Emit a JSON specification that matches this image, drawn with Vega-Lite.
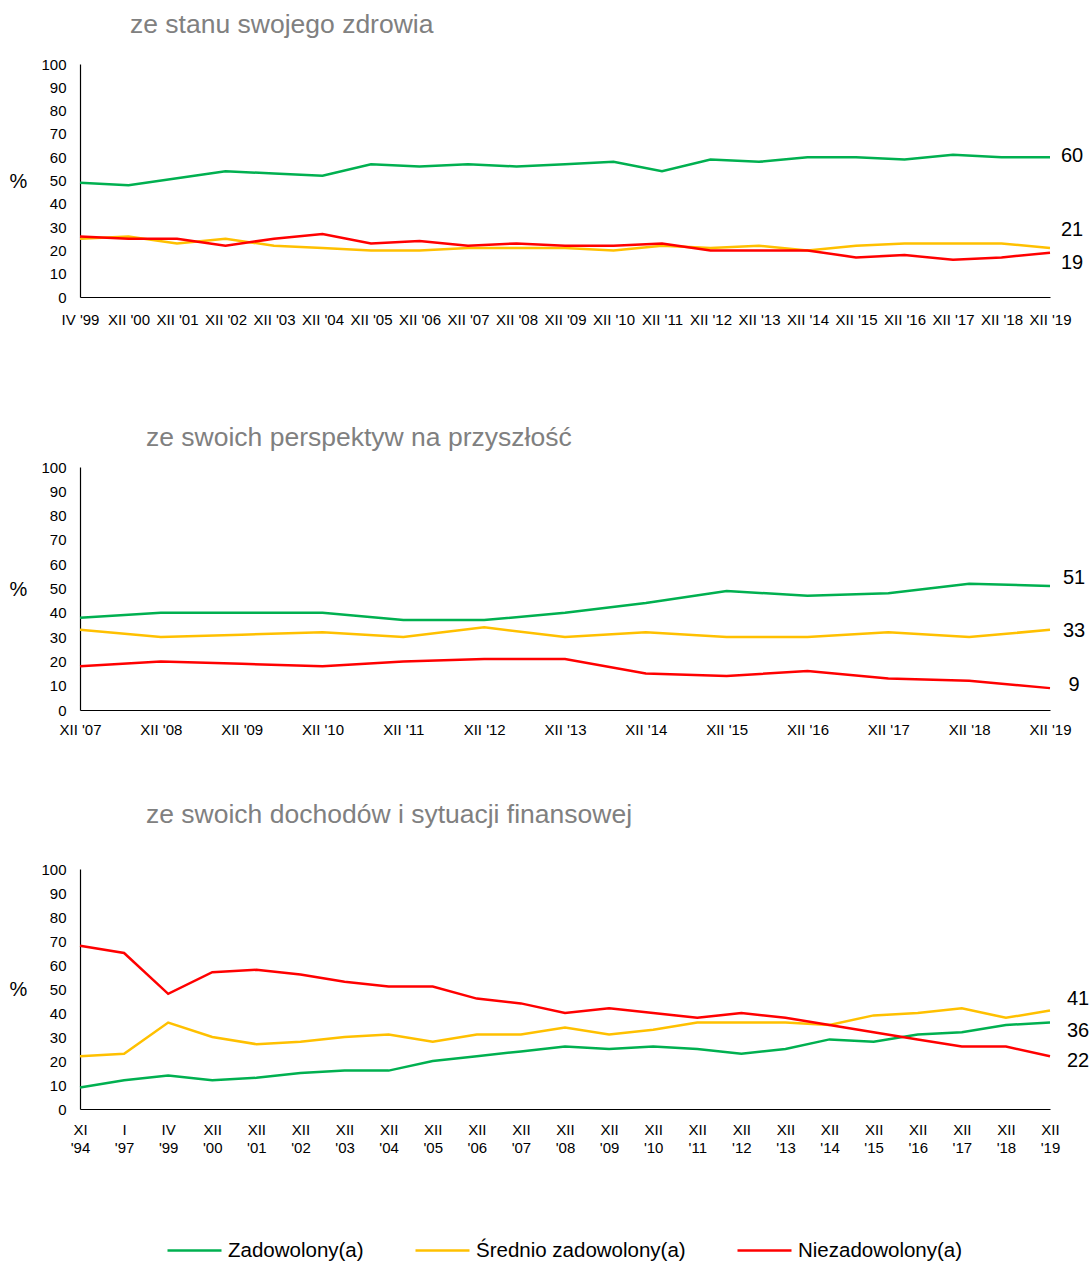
{
  "$schema": "https://vega.github.io/schema/vega-lite/v6.json",
  "padding": {"left": 9, "top": 11, "right": 0, "bottom": 0},
  "spacing": 63,
  "config": {
    "font": "Liberation Sans",
    "view": {"stroke": null},
    "axis": {"grid": false, "ticks": false, "tickSize": 0, "domainColor": "#000000", "domainWidth": 1.2, "labelColor": "#000000", "labelFontSize": 15, "labelFont": "Liberation Sans", "titleColor": "#000000", "titleFontWeight": "normal", "titleFont": "Liberation Sans"},
    "title": {"font": "Liberation Sans", "fontSize": 26.5, "fontWeight": "normal", "color": "#808080", "anchor": "start", "frame": "group", "baseline": "alphabetic"},
    "legend": {"orient": "none", "legendX": 86, "legendY": 1158, "direction": "horizontal", "symbolType": "stroke", "symbolSize": 2916, "symbolStrokeWidth": 2.5, "labelFontSize": 20.5, "labelFont": "Liberation Sans", "labelColor": "#000000", "labelOffset": 5, "columnPadding": 46, "labelLimit": 400}
  },
  "datasets": {
    "zdrowie": [
      {"okres": "IV '99", "Zadowolony(a)": 49, "Średnio zadowolony(a)": 25, "Niezadowolony(a)": 26},
      {"okres": "XII '00", "Zadowolony(a)": 48, "Średnio zadowolony(a)": 26, "Niezadowolony(a)": 25},
      {"okres": "XII '01", "Zadowolony(a)": 51, "Średnio zadowolony(a)": 23, "Niezadowolony(a)": 25},
      {"okres": "XII '02", "Zadowolony(a)": 54, "Średnio zadowolony(a)": 25, "Niezadowolony(a)": 22},
      {"okres": "XII '03", "Zadowolony(a)": 53, "Średnio zadowolony(a)": 22, "Niezadowolony(a)": 25},
      {"okres": "XII '04", "Zadowolony(a)": 52, "Średnio zadowolony(a)": 21, "Niezadowolony(a)": 27},
      {"okres": "XII '05", "Zadowolony(a)": 57, "Średnio zadowolony(a)": 20, "Niezadowolony(a)": 23},
      {"okres": "XII '06", "Zadowolony(a)": 56, "Średnio zadowolony(a)": 20, "Niezadowolony(a)": 24},
      {"okres": "XII '07", "Zadowolony(a)": 57, "Średnio zadowolony(a)": 21, "Niezadowolony(a)": 22},
      {"okres": "XII '08", "Zadowolony(a)": 56, "Średnio zadowolony(a)": 21, "Niezadowolony(a)": 23},
      {"okres": "XII '09", "Zadowolony(a)": 57, "Średnio zadowolony(a)": 21, "Niezadowolony(a)": 22},
      {"okres": "XII '10", "Zadowolony(a)": 58, "Średnio zadowolony(a)": 20, "Niezadowolony(a)": 22},
      {"okres": "XII '11", "Zadowolony(a)": 54, "Średnio zadowolony(a)": 22, "Niezadowolony(a)": 23},
      {"okres": "XII '12", "Zadowolony(a)": 59, "Średnio zadowolony(a)": 21, "Niezadowolony(a)": 20},
      {"okres": "XII '13", "Zadowolony(a)": 58, "Średnio zadowolony(a)": 22, "Niezadowolony(a)": 20},
      {"okres": "XII '14", "Zadowolony(a)": 60, "Średnio zadowolony(a)": 20, "Niezadowolony(a)": 20},
      {"okres": "XII '15", "Zadowolony(a)": 60, "Średnio zadowolony(a)": 22, "Niezadowolony(a)": 17},
      {"okres": "XII '16", "Zadowolony(a)": 59, "Średnio zadowolony(a)": 23, "Niezadowolony(a)": 18},
      {"okres": "XII '17", "Zadowolony(a)": 61, "Średnio zadowolony(a)": 23, "Niezadowolony(a)": 16},
      {"okres": "XII '18", "Zadowolony(a)": 60, "Średnio zadowolony(a)": 23, "Niezadowolony(a)": 17},
      {"okres": "XII '19", "Zadowolony(a)": 60, "Średnio zadowolony(a)": 21, "Niezadowolony(a)": 19}
    ],
    "perspektywy": [
      {"okres": "XII '07", "Zadowolony(a)": 38, "Średnio zadowolony(a)": 33, "Niezadowolony(a)": 18},
      {"okres": "XII '08", "Zadowolony(a)": 40, "Średnio zadowolony(a)": 30, "Niezadowolony(a)": 20},
      {"okres": "XII '09", "Zadowolony(a)": 40, "Średnio zadowolony(a)": 31, "Niezadowolony(a)": 19},
      {"okres": "XII '10", "Zadowolony(a)": 40, "Średnio zadowolony(a)": 32, "Niezadowolony(a)": 18},
      {"okres": "XII '11", "Zadowolony(a)": 37, "Średnio zadowolony(a)": 30, "Niezadowolony(a)": 20},
      {"okres": "XII '12", "Zadowolony(a)": 37, "Średnio zadowolony(a)": 34, "Niezadowolony(a)": 21},
      {"okres": "XII '13", "Zadowolony(a)": 40, "Średnio zadowolony(a)": 30, "Niezadowolony(a)": 21},
      {"okres": "XII '14", "Zadowolony(a)": 44, "Średnio zadowolony(a)": 32, "Niezadowolony(a)": 15},
      {"okres": "XII '15", "Zadowolony(a)": 49, "Średnio zadowolony(a)": 30, "Niezadowolony(a)": 14},
      {"okres": "XII '16", "Zadowolony(a)": 47, "Średnio zadowolony(a)": 30, "Niezadowolony(a)": 16},
      {"okres": "XII '17", "Zadowolony(a)": 48, "Średnio zadowolony(a)": 32, "Niezadowolony(a)": 13},
      {"okres": "XII '18", "Zadowolony(a)": 52, "Średnio zadowolony(a)": 30, "Niezadowolony(a)": 12},
      {"okres": "XII '19", "Zadowolony(a)": 51, "Średnio zadowolony(a)": 33, "Niezadowolony(a)": 9}
    ],
    "dochody": [
      {"okres": "XI '94", "Zadowolony(a)": 9, "Średnio zadowolony(a)": 22, "Niezadowolony(a)": 68},
      {"okres": "I '97", "Zadowolony(a)": 12, "Średnio zadowolony(a)": 23, "Niezadowolony(a)": 65},
      {"okres": "IV '99", "Zadowolony(a)": 14, "Średnio zadowolony(a)": 36, "Niezadowolony(a)": 48},
      {"okres": "XII '00", "Zadowolony(a)": 12, "Średnio zadowolony(a)": 30, "Niezadowolony(a)": 57},
      {"okres": "XII '01", "Zadowolony(a)": 13, "Średnio zadowolony(a)": 27, "Niezadowolony(a)": 58},
      {"okres": "XII '02", "Zadowolony(a)": 15, "Średnio zadowolony(a)": 28, "Niezadowolony(a)": 56},
      {"okres": "XII '03", "Zadowolony(a)": 16, "Średnio zadowolony(a)": 30, "Niezadowolony(a)": 53},
      {"okres": "XII '04", "Zadowolony(a)": 16, "Średnio zadowolony(a)": 31, "Niezadowolony(a)": 51},
      {"okres": "XII '05", "Zadowolony(a)": 20, "Średnio zadowolony(a)": 28, "Niezadowolony(a)": 51},
      {"okres": "XII '06", "Zadowolony(a)": 22, "Średnio zadowolony(a)": 31, "Niezadowolony(a)": 46},
      {"okres": "XII '07", "Zadowolony(a)": 24, "Średnio zadowolony(a)": 31, "Niezadowolony(a)": 44},
      {"okres": "XII '08", "Zadowolony(a)": 26, "Średnio zadowolony(a)": 34, "Niezadowolony(a)": 40},
      {"okres": "XII '09", "Zadowolony(a)": 25, "Średnio zadowolony(a)": 31, "Niezadowolony(a)": 42},
      {"okres": "XII '10", "Zadowolony(a)": 26, "Średnio zadowolony(a)": 33, "Niezadowolony(a)": 40},
      {"okres": "XII '11", "Zadowolony(a)": 25, "Średnio zadowolony(a)": 36, "Niezadowolony(a)": 38},
      {"okres": "XII '12", "Zadowolony(a)": 23, "Średnio zadowolony(a)": 36, "Niezadowolony(a)": 40},
      {"okres": "XII '13", "Zadowolony(a)": 25, "Średnio zadowolony(a)": 36, "Niezadowolony(a)": 38},
      {"okres": "XII '14", "Zadowolony(a)": 29, "Średnio zadowolony(a)": 35, "Niezadowolony(a)": 35},
      {"okres": "XII '15", "Zadowolony(a)": 28, "Średnio zadowolony(a)": 39, "Niezadowolony(a)": 32},
      {"okres": "XII '16", "Zadowolony(a)": 31, "Średnio zadowolony(a)": 40, "Niezadowolony(a)": 29},
      {"okres": "XII '17", "Zadowolony(a)": 32, "Średnio zadowolony(a)": 42, "Niezadowolony(a)": 26},
      {"okres": "XII '18", "Zadowolony(a)": 35, "Średnio zadowolony(a)": 38, "Niezadowolony(a)": 26},
      {"okres": "XII '19", "Zadowolony(a)": 36, "Średnio zadowolony(a)": 41, "Niezadowolony(a)": 22}
    ]
  },
  "vconcat": [
    {
      "width": 970,
      "height": 233,
      "title": {"text": "ze stanu swojego zdrowia", "dx": 50, "offset": 19},
      "data": {"name": "zdrowie"},
      "transform": [{"fold": ["Zadowolony(a)", "Średnio zadowolony(a)", "Niezadowolony(a)"], "as": ["kategoria", "procent"]}],
      "encoding": {
        "x": {"field": "okres", "type": "ordinal", "sort": null, "scale": {"type": "point", "padding": 0}, "axis": {"title": " ", "titleFontSize": 15, "titlePadding": 18.5, "labelAngle": 0, "labelPadding": 15, "labelOverlap": false}},
        "y": {"field": "procent", "type": "quantitative", "scale": {"domain": [0, 100]}, "axis": {"values": [0, 10, 20, 30, 40, 50, 60, 70, 80, 90, 100], "labelPadding": 14, "title": "%", "titleAngle": 0, "titleFontSize": 20, "titleAlign": "center", "titleBaseline": "middle", "titleX": -62, "titleY": 117}}
      },
      "layer": [
        {"mark": {"type": "line", "strokeWidth": 2.5}, "encoding": {"color": {"field": "kategoria", "type": "nominal", "scale": {"domain": ["Zadowolony(a)", "Średnio zadowolony(a)", "Niezadowolony(a)"], "range": ["#00B050", "#FFC000", "#FF0000"]}, "legend": {"title": null}}}},
        {"mark": {"type": "text", "fontSize": 20, "align": "center", "baseline": "middle", "dx": 22, "dy": -1, "color": "#000000"}, "encoding": {"text": {"condition": {"test": "datum.okres === \"XII '19\" && datum.kategoria === 'Zadowolony(a)'", "field": "procent"}, "value": ""}}},
        {"mark": {"type": "text", "fontSize": 20, "align": "center", "baseline": "middle", "dx": 22, "dy": -18, "color": "#000000"}, "encoding": {"text": {"condition": {"test": "datum.okres === \"XII '19\" && datum.kategoria === 'Średnio zadowolony(a)'", "field": "procent"}, "value": ""}}},
        {"mark": {"type": "text", "fontSize": 20, "align": "center", "baseline": "middle", "dx": 22, "dy": 10, "color": "#000000"}, "encoding": {"text": {"condition": {"test": "datum.okres === \"XII '19\" && datum.kategoria === 'Niezadowolony(a)'", "field": "procent"}, "value": ""}}}
      ]
    },
    {
      "width": 970,
      "height": 243,
      "title": {"text": "ze swoich perspektyw na przyszłość", "dx": 66, "offset": 9},
      "data": {"name": "perspektywy"},
      "transform": [{"fold": ["Zadowolony(a)", "Średnio zadowolony(a)", "Niezadowolony(a)"], "as": ["kategoria", "procent"]}],
      "encoding": {
        "x": {"field": "okres", "type": "ordinal", "sort": null, "scale": {"type": "point", "padding": 0}, "axis": {"title": null, "labelAngle": 0, "labelPadding": 12.5, "labelOverlap": false}},
        "y": {"field": "procent", "type": "quantitative", "scale": {"domain": [0, 100]}, "axis": {"values": [0, 10, 20, 30, 40, 50, 60, 70, 80, 90, 100], "labelPadding": 14, "title": "%", "titleAngle": 0, "titleFontSize": 20, "titleAlign": "center", "titleBaseline": "middle", "titleX": -62, "titleY": 122}}
      },
      "layer": [
        {"mark": {"type": "line", "strokeWidth": 2.5}, "encoding": {"color": {"field": "kategoria", "type": "nominal", "scale": {"domain": ["Zadowolony(a)", "Średnio zadowolony(a)", "Niezadowolony(a)"], "range": ["#00B050", "#FFC000", "#FF0000"]}, "legend": {"title": null}}}},
        {"mark": {"type": "text", "fontSize": 20, "align": "center", "baseline": "middle", "dx": 24, "dy": -8, "color": "#000000"}, "encoding": {"text": {"condition": {"test": "datum.okres === \"XII '19\" && datum.kategoria === 'Zadowolony(a)'", "field": "procent"}, "value": ""}}},
        {"mark": {"type": "text", "fontSize": 20, "align": "center", "baseline": "middle", "dx": 24, "dy": 1, "color": "#000000"}, "encoding": {"text": {"condition": {"test": "datum.okres === \"XII '19\" && datum.kategoria === 'Średnio zadowolony(a)'", "field": "procent"}, "value": ""}}},
        {"mark": {"type": "text", "fontSize": 20, "align": "center", "baseline": "middle", "dx": 24, "dy": -3, "color": "#000000"}, "encoding": {"text": {"condition": {"test": "datum.okres === \"XII '19\" && datum.kategoria === 'Niezadowolony(a)'", "field": "procent"}, "value": ""}}}
      ]
    },
    {
      "width": 970,
      "height": 240,
      "title": {"text": "ze swoich dochodów i sytuacji finansowej", "dx": 66, "offset": 34},
      "data": {"name": "dochody"},
      "transform": [{"fold": ["Zadowolony(a)", "Średnio zadowolony(a)", "Niezadowolony(a)"], "as": ["kategoria", "procent"]}],
      "encoding": {
        "x": {"field": "okres", "type": "ordinal", "sort": null, "scale": {"type": "point", "padding": 0}, "axis": {"title": null, "labelAngle": 0, "labelPadding": 13.5, "labelOverlap": false, "labelLineHeight": 18, "labelExpr": "split(datum.label, ' ')"}},
        "y": {"field": "procent", "type": "quantitative", "scale": {"domain": [0, 100]}, "axis": {"values": [0, 10, 20, 30, 40, 50, 60, 70, 80, 90, 100], "labelPadding": 14, "title": "%", "titleAngle": 0, "titleFontSize": 20, "titleAlign": "center", "titleBaseline": "middle", "titleX": -62, "titleY": 120}}
      },
      "layer": [
        {"mark": {"type": "line", "strokeWidth": 2.5}, "encoding": {"color": {"field": "kategoria", "type": "nominal", "scale": {"domain": ["Zadowolony(a)", "Średnio zadowolony(a)", "Niezadowolony(a)"], "range": ["#00B050", "#FFC000", "#FF0000"]}, "legend": {"title": null}}}},
        {"mark": {"type": "text", "fontSize": 20, "align": "center", "baseline": "middle", "dx": 28, "dy": 8, "color": "#000000"}, "encoding": {"text": {"condition": {"test": "datum.okres === \"XII '19\" && datum.kategoria === 'Zadowolony(a)'", "field": "procent"}, "value": ""}}},
        {"mark": {"type": "text", "fontSize": 20, "align": "center", "baseline": "middle", "dx": 28, "dy": -12, "color": "#000000"}, "encoding": {"text": {"condition": {"test": "datum.okres === \"XII '19\" && datum.kategoria === 'Średnio zadowolony(a)'", "field": "procent"}, "value": ""}}},
        {"mark": {"type": "text", "fontSize": 20, "align": "center", "baseline": "middle", "dx": 28, "dy": 5, "color": "#000000"}, "encoding": {"text": {"condition": {"test": "datum.okres === \"XII '19\" && datum.kategoria === 'Niezadowolony(a)'", "field": "procent"}, "value": ""}}}
      ]
    }
  ]
}
